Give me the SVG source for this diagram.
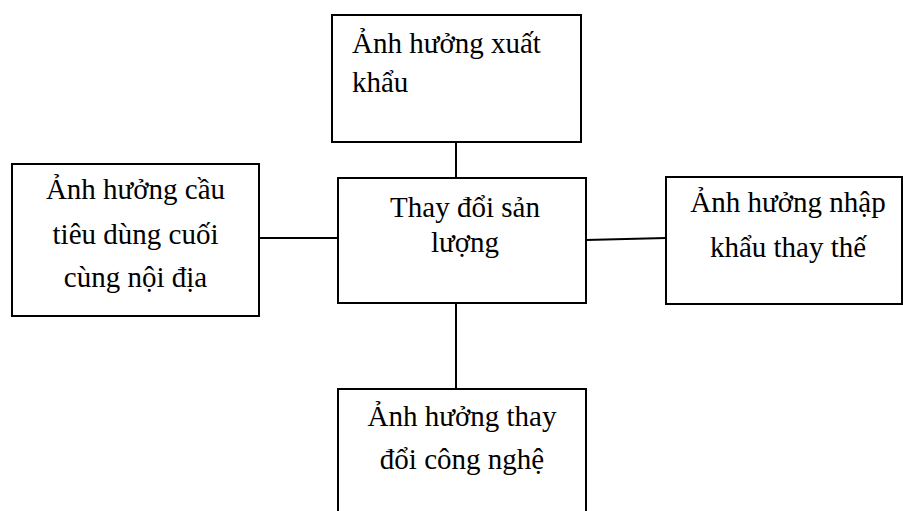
<svg xmlns="http://www.w3.org/2000/svg" width="903" height="511" viewBox="0 0 903 511">
<style>
.box{fill:#fff;stroke:#000;stroke-width:2}
.t{font-family:"Liberation Serif","Times New Roman",serif;font-size:29px;fill:#000}
.c{text-anchor:middle}
.ln{stroke:#000;stroke-width:2;fill:none}
</style>
<rect width="903" height="511" fill="#fff"/>
<g id="connectors">
<line class="ln" x1="456" y1="142" x2="456" y2="178"/>
<line class="ln" x1="259" y1="238" x2="338" y2="238"/>
<line class="ln" x1="586" y1="240" x2="666" y2="238"/>
<line class="ln" x1="456" y1="303" x2="456" y2="389"/>
</g>
<g id="top">
<rect class="box" x="332" y="15" width="249" height="127"/>
<text class="t" x="352" y="53">Ảnh hưởng xuất</text>
<text class="t" x="352" y="92">khẩu</text>
</g>
<g id="center">
<rect class="box" x="338" y="178" width="248" height="125"/>
<text class="t c" x="465" y="217">Thay đổi sản</text>
<text class="t c" x="465" y="252">lượng</text>
</g>
<g id="left">
<rect class="box" x="12" y="164" width="247" height="152"/>
<text class="t c" x="135.5" y="199">Ảnh hưởng cầu</text>
<text class="t c" x="135.5" y="244">tiêu dùng cuối</text>
<text class="t c" x="135.5" y="287">cùng nội địa</text>
</g>
<g id="right">
<rect class="box" x="666" y="177" width="236" height="127"/>
<text class="t c" x="788" y="212">Ảnh hưởng nhập</text>
<text class="t c" x="788" y="257">khẩu thay thế</text>
</g>
<g id="bottom">
<rect class="box" x="338" y="389" width="248" height="140"/>
<text class="t c" x="462" y="426">Ảnh hưởng thay</text>
<text class="t c" x="462" y="469">đổi công nghệ</text>
</g>
</svg>
